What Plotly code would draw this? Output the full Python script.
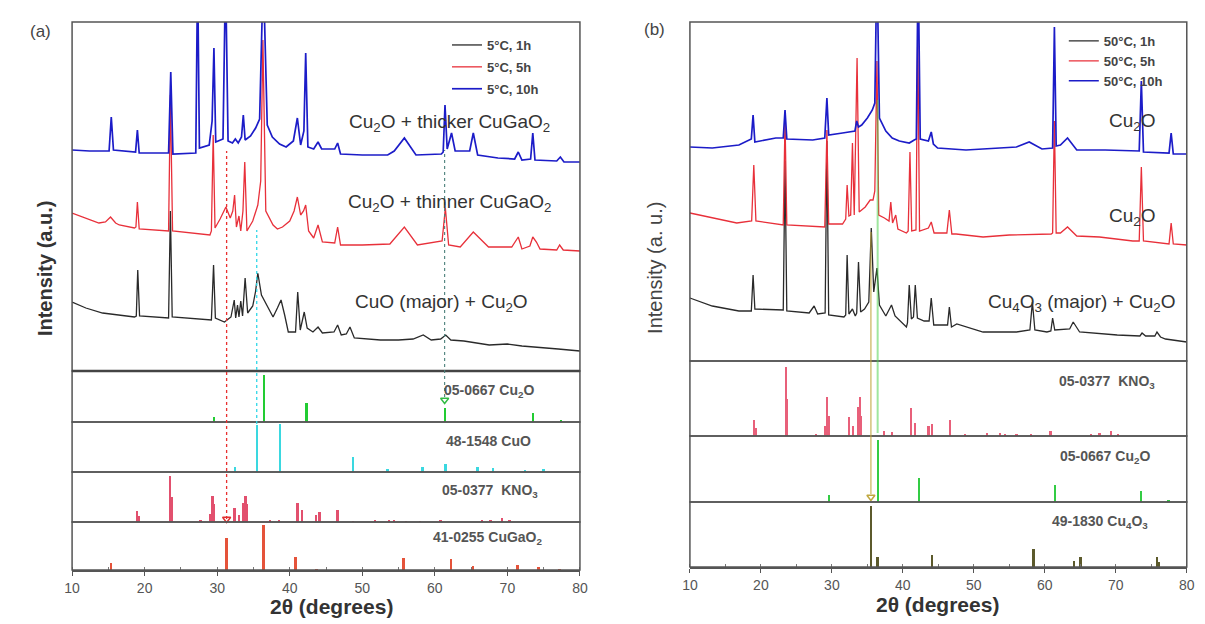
import plotly.graph_objects as go

W, H = 1205, 624
FONT = "Liberation Sans, Arial, sans-serif"

# ======================= DATA =======================
two_theta_ticks = [10, 20, 30, 40, 50, 60, 70, 80]

# ---- panel (a): measured patterns (2theta, intensity a.u.) ----
a_1h = [(10.0,69),(11.9,63),(14.2,58),(18.6,54),(18.85,55),(19.05,101),(19.3,55),(23.3,53),(23.55,160),(23.8,54),
        (29.2,51),(29.5,106),(29.75,53),(31.0,49),(31.9,54),(32.35,71),(32.55,53),(32.8,66),(33.0,54),(33.25,70),
        (33.5,55),(33.85,93),(34.2,58),(34.9,65),(35.3,80),(35.6,98),(36.1,76),(36.8,66),(37.7,54),(38.3,63),
        (38.8,71),(39.3,56),(39.8,39),(40.8,39),(41.1,79),(41.45,41),(42.0,59),(42.4,43),(43.2,39),(43.9,44),
        (44.5,38),(46.1,39),(46.6,46),(47.1,36),(47.8,37),(48.3,44),(48.9,33),(52.5,31),(55.0,31),(57.0,32),
        (58.4,36),(59.5,31),(60.8,32),(61.5,36),(62.2,31),(64.0,30),(67.5,26),(70.0,27),(72.0,25),(77.0,22),(80.0,20)]
a_5h = [(10.0,158),(12.4,151),(13.7,148),(14.6,149),(15.3,154),(16.0,148),(16.5,146),(18.6,143),(18.8,144),(19.0,169),
        (19.25,142),(23.3,140),(23.55,276),(23.85,140),(29.0,136),(29.2,140),(29.45,236),(29.7,143),(30.4,152),(31.2,164),
        (31.8,153),(32.15,160),(32.4,176),(32.65,144),(33.0,155),(33.25,140),(33.55,160),(33.8,209),(34.1,140),(34.9,150),
        (35.6,166),(36.0,190),(36.3,331),(36.7,160),(37.2,153),(37.7,146),(38.3,142),(39.0,144),(40.0,150),(40.6,160),
        (41.05,174),(41.5,156),(41.9,160),(42.2,166),(42.6,140),(43.3,133),(43.9,146),(44.5,129),(46.2,128),(46.6,144),
        (47.0,126),(50.0,126),(53.8,127),(55.8,144),(57.6,126),(61.0,130),(61.45,163),(61.9,126),(63.5,124),(65.3,139),
        (67.4,124),(70.6,124),(71.5,134),(72.0,122),(73.1,125),(73.5,134),(74.0,129),(74.5,122),(76.8,121),(77.2,126),
        (77.7,121),(80.0,120)]
a_10h = [(10.0,221),(12.4,220),(15.1,220),(15.4,254),(15.7,221),(18.75,219),(19.0,241),(19.25,218),(23.3,218),(23.6,299),
         (23.9,217),(27.05,218),(27.3,400),(27.55,223),(28.9,226),(29.3,250),(29.55,323),(29.8,229),(30.8,232),(31.15,400),
         (31.5,230),(32.1,228),(32.5,232),(32.9,228),(33.35,234),(33.6,256),(33.85,231),(34.6,235),(35.3,243),(35.85,252),
         (36.35,400),(36.9,246),(37.6,234),(38.6,227),(39.5,224),(40.5,230),(41.05,253),(41.5,226),(41.95,240),(42.2,318),
         (42.5,224),(43.3,222),(43.9,229),(44.4,222),(46.2,222),(46.6,228),(47.0,217),(50.0,216),(53.5,216),(54.4,220),
         (55.8,233),(57.4,216),(60.9,217),(61.15,219),(61.4,266),(61.7,222),(62.3,238),(62.8,220),(64.8,220),(65.3,238),
         (65.9,216),(68.7,213),(71.0,212),(71.5,219),(72.0,211),(73.2,212),(73.5,238),(73.8,211),(76.8,210),(77.3,214),
         (77.8,209),(80.0,209)]

# ---- panel (a): reference cards (position, relative height) ----
cu2o_a_pos = [29.6, 36.45, 42.3, 61.4, 73.5, 77.4]
cu2o_a_int = [5, 47, 19, 14, 9, 2]
cuo_pos = [32.5, 35.5, 38.7, 48.7, 53.5, 58.3, 61.5, 65.9, 68.0, 72.4, 75.0]
cuo_int = [5, 47, 48, 15, 3, 5, 8, 5, 4, 2, 3]
kno3_pos = [19.0, 19.25, 23.5, 23.7, 27.7, 29.05, 29.35, 29.6, 32.4, 33.0, 33.65, 33.9, 34.1, 37.3, 38.5, 41.1,
            41.7, 43.6, 44.1, 46.6, 48.7, 51.8, 53.7, 54.4, 56.0, 58.0, 60.8, 66.5, 67.7, 69.3, 70.3]
kno3_a_int = [11, 6, 46, 25, 2, 8, 26, 18, 14, 7, 19, 26, 18, 2, 2, 19, 12, 7, 10, 12, 1, 2, 2, 2, 1, 1, 2, 2, 2, 4, 2]
cugao2_pos = [15.4, 31.3, 36.4, 40.8, 43.7, 55.7, 62.2, 65.3, 71.4, 74.3, 77.2]
cugao2_int = [7, 32, 45, 13, 1, 12, 11, 4, 5, 3, 1]
guides_a = [31.3, 35.45, 61.35]

# ---- panel (b): measured patterns ----
b_1h = [(10.0,63),(13.15,55),(16.9,50),(18.65,50),(18.9,86),(19.15,52),(23.15,51),(23.4,200),(23.65,50),(26.8,48),
        (27.5,55),(28.0,47),(29.05,48),(29.3,220),(29.55,46),(31.7,44),(31.95,46),(32.15,106),(32.4,47),(32.9,52),
        (33.3,45),(33.5,48),(33.75,99),(34.05,49),(34.6,52),(35.2,59),(35.55,133),(35.9,69),(36.35,93),(36.7,56),
        (37.6,45),(38.4,56),(38.9,45),(40.5,34),(40.65,38),(40.9,76),(41.2,42),(41.5,44),(41.75,76),(42.05,43),
        (43.0,40),(43.7,40),(44.0,63),(44.35,36),(46.3,36),(46.55,54),(46.85,34),(47.6,37),(51.3,29),(56.0,29),
        (57.9,31),(58.25,59),(58.6,31),(60.3,29),(60.85,30),(61.1,43),(61.4,31),(63.5,32),(64.0,39),(64.9,29),
        (70.2,26),(72.4,25),(73.4,25),(73.7,28),(74.2,25),(75.5,25),(75.8,29),(76.3,24),(77.0,22),(80.0,19)]
b_5h = [(10.0,148),(13.15,143),(16.6,138),(18.7,140),(19.0,196),(19.3,140),(22.8,136),(23.15,136),(23.4,241),(23.65,136),
        (29.0,134),(29.3,231),(29.55,137),(31.5,137),(31.95,142),(32.15,176),(32.4,145),(32.65,146),(32.9,218),(33.15,146),
        (33.55,303),(33.85,149),(34.7,154),(35.4,161),(35.8,161),(36.05,170),(36.35,300),(36.6,146),(37.4,143),(38.05,140),
        (38.3,159),(38.55,138),(39.0,146),(39.3,132),(40.5,128),(40.75,130),(41.0,209),(41.25,130),(41.85,131),(42.1,331),
        (42.35,130),(43.6,133),(44.0,139),(44.4,128),(46.2,128),(46.55,151),(46.9,127),(47.5,127),(51.3,124),(55.0,126),
        (60.9,127),(61.1,128),(61.35,240),(61.6,128),(62.2,128),(63.2,134),(64.5,125),(67.7,124),(72.4,120),(73.3,120),
        (73.6,194),(73.9,120),(77.5,117),(77.8,138),(78.1,117),(80.0,116)]
b_10h = [(10.0,214),(13.15,213),(16.9,216),(18.3,221),(18.65,222),(18.9,246),(19.15,219),(22.1,223),(23.15,223),(23.4,251),
         (23.65,222),(27.3,221),(29.0,223),(29.3,263),(29.55,226),(31.5,228),(33.25,230),(33.5,240),(33.75,234),(34.2,236),
         (35.0,243),(35.7,251),(36.05,258),(36.35,400),(36.7,243),(37.6,230),(38.5,223),(39.5,220),(40.9,218),(41.6,221),
         (41.9,222),(42.15,400),(42.45,222),(43.6,220),(44.0,229),(44.3,217),(44.9,213),(48.9,211),(53.6,213),(56.0,214),
         (57.8,219),(59.6,212),(61.1,213),(61.35,334),(61.6,215),(62.2,216),(63.2,223),(64.5,211),(68.5,211),(73.3,210),
         (73.6,280),(73.9,209),(77.5,208),(77.8,228),(78.1,207),(80.0,207)]

# ---- panel (b): reference cards ----
kno3_b_int = [16, 8, 69, 37, 2, 10, 39, 20, 19, 10, 29, 39, 20, 5, 4, 28, 13, 10, 12, 16, 2, 3, 3, 2, 2, 2, 5, 2, 3, 5, 2]
cu2o_b_int = [7, 62, 24, 17, 11, 2]
cu4o3_pos = [35.55, 36.4, 44.1, 58.4, 64.1, 65.0, 75.8, 76.1]
cu4o3_int = [61, 10, 12, 18, 6, 10, 10, 5]
guides_b = [36.45, 35.5]

legend_a = ["5°C, 1h", "5°C, 5h", "5°C, 10h"]
legend_b = ["50°C, 1h", "50°C, 5h", "50°C, 10h"]

# ======================= LAYOUT GEOMETRY (target pixels) =======================
OFF = 8  # page body margin of the html page
def PX(x):
    return ((x - OFF) / 0.987 - OFF) / W
def PY(y):
    return 1 - (y - OFF) / H

AX0, AX1 = 72, 580          # panel a plot x-extent
BX0, BX1 = 690, 1187        # panel b plot x-extent
A_ROWS = [22, 371, 422, 472, 522, 570]   # main, Cu2O, CuO, KNO3, CuGaO2
B_ROWS = [22, 361, 436, 502, 567]        # main, KNO3, Cu2O, Cu4O3

C_BLACK, C_RED, C_BLUE = "#2a2a2a", "#e8303a", "#1c1cc8"

fig = go.Figure()

def add_pattern(pairs, color, width, name, xa, ya, leg, grp):
    fig.add_trace(go.Scatter(x=[p[0] for p in pairs], y=[p[1] for p in pairs], mode="lines",
                             line=dict(color=color, width=width), name="<b>%s</b>" % name,
                             xaxis=xa, yaxis=ya, legend=leg, legendgroup=grp, hoverinfo="skip"))

def add_sticks(pos, ints, color, xa, ya, w=0.32):
    fig.add_trace(go.Bar(x=pos, y=ints, width=w, marker=dict(color=color, line=dict(width=0)),
                         xaxis=xa, yaxis=ya, showlegend=False, hoverinfo="skip"))

# panel (a)
add_pattern(a_1h, C_BLACK, 1.3, legend_a[0], "x", "y", "legend", "a1")
add_pattern(a_5h, C_RED, 1.3, legend_a[1], "x", "y", "legend", "a2")
add_pattern(a_10h, C_BLUE, 1.7, legend_a[2], "x", "y", "legend", "a3")
add_sticks(cu2o_a_pos, cu2o_a_int, "#22cc33", "x", "y2")
add_sticks(cuo_pos, cuo_int, "#3ad8e0", "x", "y3")
add_sticks(kno3_pos, kno3_a_int, "#e2506e", "x", "y4")
add_sticks(cugao2_pos, cugao2_int, "#e5533a", "x", "y5")

# panel (b)
add_pattern(b_1h, C_BLACK, 1.3, legend_b[0], "x2", "y6", "legend2", "b1")
add_pattern(b_5h, C_RED, 1.3, legend_b[1], "x2", "y6", "legend2", "b2")
add_pattern(b_10h, C_BLUE, 1.7, legend_b[2], "x2", "y6", "legend2", "b3")
add_sticks(kno3_pos, kno3_b_int, "#e8607a", "x2", "y7")
add_sticks(cu2o_a_pos, cu2o_b_int, "#33cc44", "x2", "y8")
add_sticks(cu4o3_pos, cu4o3_int, "#5c5a2c", "x2", "y9")

# small "v" markers at guide-line ends
fig.add_trace(go.Scatter(x=[guides_a[0]], y=[3], mode="markers", xaxis="x", yaxis="y4",
                         marker=dict(symbol="triangle-down-open", size=7, color="#e03030", line=dict(width=1.5)),
                         showlegend=False, hoverinfo="skip", cliponaxis=False))
fig.add_trace(go.Scatter(x=[guides_a[2]], y=[22], mode="markers", xaxis="x", yaxis="y2",
                         marker=dict(symbol="triangle-down-open", size=7, color="#33bb44", line=dict(width=1.5)),
                         showlegend=False, hoverinfo="skip", cliponaxis=False))
fig.add_trace(go.Scatter(x=[guides_b[1]], y=[5], mode="markers", xaxis="x2", yaxis="y8",
                         marker=dict(symbol="triangle-down-open", size=7, color="#c0a840", line=dict(width=1.5)),
                         showlegend=False, hoverinfo="skip", cliponaxis=False))

# axes
def hidden_y(rows, i, anchor):
    top, bot = rows[i], rows[i + 1]
    return dict(domain=[PY(bot), PY(top)], range=[0, bot - top], anchor=anchor, visible=False,
                fixedrange=True)

layout_axes = {}
for i in range(5):
    layout_axes["yaxis" if i == 0 else "yaxis%d" % (i + 1)] = hidden_y(A_ROWS, i, "x")
for i in range(4):
    layout_axes["yaxis%d" % (i + 6)] = hidden_y(B_ROWS, i, "x2")

def xaxis(x0, x1, anchor):
    return dict(domain=[PX(x0), PX(x1)], range=[10, 80], anchor=anchor, tickvals=two_theta_ticks,
                ticks="outside", ticklen=4, tickwidth=1.2, tickcolor="#555", showline=True,
                linecolor="#555", linewidth=1.5, showgrid=False, zeroline=False,
                minor=dict(dtick=5, ticks="inside", ticklen=3, tickcolor="#777", showgrid=False),
                tickfont=dict(family=FONT, size=14, color="#555"))

layout_axes["xaxis"] = xaxis(AX0, AX1, "y5")
layout_axes["xaxis2"] = xaxis(BX0, BX1, "y9")

# frames and guide lines
shapes = []
def rect(x0, x1, y0, y1, w=1.5, c="#555"):
    shapes.append(dict(type="rect", xref="paper", yref="paper", x0=PX(x0), x1=PX(x1), y0=PY(y1), y1=PY(y0),
                       line=dict(color=c, width=w), fillcolor="rgba(0,0,0,0)", layer="above"))
for i in range(5):
    rect(AX0, AX1, A_ROWS[i], A_ROWS[i + 1])
shapes.append(dict(type="line", xref="paper", yref="paper", x0=PX(AX0), x1=PX(AX1), y0=PY(371), y1=PY(371),
                   line=dict(color="#444", width=2.5)))
for i in range(4):
    rect(BX0, BX1, B_ROWS[i], B_ROWS[i + 1])

def vline(xv, xref, ytop, ybot, color, dash, w):
    shapes.append(dict(type="line", xref=xref, yref="paper", x0=xv, x1=xv, y0=PY(ybot), y1=PY(ytop),
                       line=dict(color=color, width=w, dash=dash), layer="above"))
vline(guides_a[0], "x", 151, 519, "#e83030", "dot", 1.3)
vline(guides_a[1], "x", 230, 424, "#30d8e8", "dot", 1.3)
vline(guides_a[2], "x", 150, 397, "#4a7f7a", "dot", 1.1)
vline(guides_b[0], "x2", 100, 433, "rgba(80,210,80,0.55)", "solid", 2)
vline(guides_b[1], "x2", 232, 494, "rgba(190,165,60,0.8)", "solid", 1.3)

# text
ann = []
def text(t, x, y, size, color="#333", bold=False, angle=0, xanchor="center"):
    ann.append(dict(text=("<b>%s</b>" % t) if bold else t, x=PX(x), y=PY(y), xref="paper", yref="paper",
                    showarrow=False, xanchor=xanchor, yanchor="middle", textangle=angle,
                    font=dict(family=FONT, size=size, color=color)))

text("(a)", 40, 32, 17, "#444")
text("(b)", 655, 30, 17, "#444")
text("Intensity (a.u.)", 45, 268, 20, "#333", bold=True, angle=-90)
text("Intensity (a. u.)", 655, 268, 20, "#444", angle=-90)
text("2θ (degrees)", 331, 606, 21, "#333", bold=True)
text("2θ (degrees)", 938, 604, 21, "#333", bold=True)

text("Cu<sub>2</sub>O + thicker CuGaO<sub>2</sub>", 450, 123, 19)
text("Cu<sub>2</sub>O + thinner CuGaO<sub>2</sub>", 450, 203, 19)
text("CuO (major) + Cu<sub>2</sub>O", 442, 303, 19)
text("Cu<sub>2</sub>O", 1132, 122, 19)
text("Cu<sub>2</sub>O", 1132, 217, 19)
text("Cu<sub>4</sub>O<sub>3</sub> (major) + Cu<sub>2</sub>O", 1082, 303, 19)

text("05-0667 Cu<sub>2</sub>O", 489, 391, 14, "#555", bold=True)
text("48-1548 CuO", 489, 441, 14, "#555", bold=True)
text("05-0377  KNO<sub>3</sub>", 490, 491, 14, "#555", bold=True)
text("41-0255 CuGaO<sub>2</sub>", 488, 538, 14, "#555", bold=True)
text("05-0377  KNO<sub>3</sub>", 1107, 382, 14, "#555", bold=True)
text("05-0667 Cu<sub>2</sub>O", 1105, 457, 14, "#555", bold=True)
text("49-1830 Cu<sub>4</sub>O<sub>3</sub>", 1100, 522, 14, "#555", bold=True)

leg_common = dict(xanchor="left", yanchor="top", bgcolor="rgba(0,0,0,0)", borderwidth=0,
                  font=dict(family=FONT, size=13, color="#444"), itemwidth=30)

fig.update_layout(
    width=W, height=H, margin=dict(l=0, r=0, t=0, b=0),
    paper_bgcolor="white", plot_bgcolor="white",
    barmode="overlay", bargap=0,
    shapes=shapes, annotations=ann,
    legend=dict(x=PX(447), y=PY(30), tracegroupgap=2, **leg_common),
    legend2=dict(x=PX(1064), y=PY(26), tracegroupgap=0, **leg_common),
    **layout_axes,
)

fig.write_html("out.html")
